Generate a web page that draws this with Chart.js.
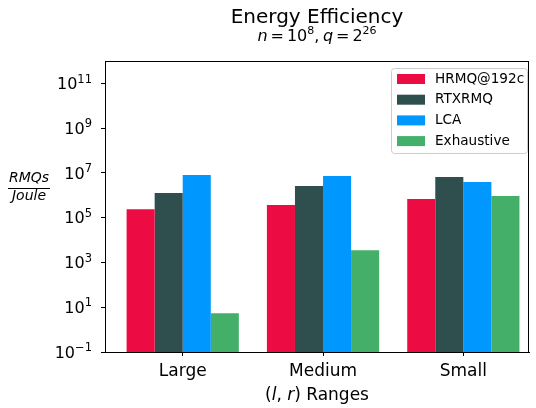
<!DOCTYPE html>
<html>
<head>
<meta charset="utf-8">
<script src="https://cdn.jsdelivr.net/npm/chart.js@4.4.1/dist/chart.umd.min.js"></script>
<style>
  html, body { margin: 0; padding: 0; background: #fff; }
  #wrap { width: 536px; height: 408px; }
</style>
</head>
<body>
<div id="wrap"><canvas id="chart" width="536" height="408"></canvas></div>
<script>
// values (RMQs per Joule, log axis)
const categories = ['Large', 'Medium', 'Small'];
const seriesNames = ['HRMQ@192c', 'RTXRMQ', 'LCA', 'Exhaustive'];
const hrmq = [2.4e5, 3.7e5, 6.8e5];
const rtxrmq = [1.26e6, 2.6e6, 6.6e6];
const lca = [8.1e6, 7.3e6, 3.9e6];
const exhaustive = [5.4, 3.5e3, 9.3e5];
const yTickExponents = [-1, 1, 3, 5, 7, 9, 11];
const seriesColors = ['#ec0c43', '#2f4f4f', '#0098ff', '#44af69'];

const FONT = '"DejaVu Sans", sans-serif';

// categories sit at x = 0, 1, 2 on a numeric axis
function toPoints(values) {
    return values.map((v, i) => ({ x: i, y: v }));
}

// draw a run of [text, font, dy, gapAfter] pieces starting at x
function drawRuns(ctx, runs, x, y) {
    runs.forEach(r => {
        ctx.font = r[1];
        ctx.fillText(r[0], x, y + (r[2] || 0));
        x += ctx.measureText(r[0]).width + (r[3] || 0);
    });
}
function runsWidth(ctx, runs) {
    let w = 0;
    runs.forEach(r => { ctx.font = r[1]; w += ctx.measureText(r[0]).width + (r[3] || 0); });
    return w;
}

// titles, axis labels, power-of-ten tick labels, frame and legend
const decorPlugin = {
    id: 'decor',
    afterDraw(chart) {
        const ctx = chart.ctx;
        const a = chart.chartArea;
        const cx = (a.left + a.right) / 2;
        ctx.save();
        ctx.fillStyle = '#000';
        ctx.textBaseline = 'alphabetic';

        // frame
        ctx.strokeStyle = '#000';
        ctx.lineWidth = 1;
        ctx.strokeRect(a.left + 0.5, a.top + 0.5, a.right - a.left - 1, a.bottom - a.top);

        // y tick labels 10^e
        const yScale = chart.scales.y;
        ctx.textAlign = 'left';
        yScale.ticks.forEach(t => {
            const e = String(Math.round(Math.log10(t.value))).replace('-', '\u2212');
            const py = yScale.getPixelForValue(t.value);
            const runs = [['10', '16px ' + FONT, 5.7], [e, '11.5px ' + FONT, -0.8]];
            drawRuns(ctx, runs, 92 - runsWidth(ctx, runs), py);
        });

        // title
        ctx.textAlign = 'center';
        ctx.font = '20px ' + FONT;
        ctx.fillText('Energy Efficiency', cx, 23);

        // subtitle
        ctx.textAlign = 'left';
        const f = '16px ' + FONT, fi = 'italic 16px ' + FONT, fs = '11px ' + FONT;
        const sub = [['n', fi, 0, 3], ['=', f, 0, 3], ['10', f], ['8', fs, -7], [',', f, 0, 3.5],
                     ['q', fi, 0, 3], ['=', f, 0, 3], ['2', f], ['26', fs, -7]];
        drawRuns(ctx, sub, cx - runsWidth(ctx, sub) / 2, 40.5);

        // x axis title
        const fx = '17px ' + FONT, fxi = 'italic 17px ' + FONT;
        const xt = [['(', fx], ['l', fxi], [', ', fx], ['r', fxi], [') Ranges', fx]];
        drawRuns(ctx, xt, cx - runsWidth(ctx, xt) / 2, 400);

        // y axis title as a fraction
        ctx.textAlign = 'center';
        ctx.font = 'italic 14px ' + FONT;
        ctx.fillText('RMQs', 29, 182);
        ctx.fillText('Joule', 29, 200);
        ctx.beginPath();
        ctx.moveTo(8, 188.5);
        ctx.lineTo(50, 188.5);
        ctx.lineWidth = 1.2;
        ctx.stroke();

        // legend
        const lx = 391, ly = 68, lw = 136, lh = 85;
        ctx.beginPath();
        ctx.roundRect(lx + 0.5, ly + 0.5, lw, lh, 3);
        ctx.fillStyle = 'rgba(255,255,255,0.8)';
        ctx.fill();
        ctx.strokeStyle = '#cccccc';
        ctx.lineWidth = 1;
        ctx.stroke();
        ctx.textAlign = 'left';
        ctx.textBaseline = 'middle';
        ctx.font = '13.6px ' + FONT;
        chart.data.datasets.forEach((ds, i) => {
            const ry = 79 + i * 20.7;
            ctx.fillStyle = ds.backgroundColor;
            ctx.fillRect(397, ry - 5, 28, 10);
            ctx.fillStyle = '#000';
            ctx.fillText(ds.label, 435, ry);
        });
        ctx.restore();
    }
};

new Chart(document.getElementById('chart'), {
    type: 'bar',
    data: {
        datasets: [
            { label: seriesNames[0], data: toPoints(hrmq), backgroundColor: seriesColors[0] },
            { label: seriesNames[1], data: toPoints(rtxrmq), backgroundColor: seriesColors[1] },
            { label: seriesNames[2], data: toPoints(lca), backgroundColor: seriesColors[2] },
            { label: seriesNames[3], data: toPoints(exhaustive), backgroundColor: seriesColors[3] }
        ]
    },
    options: {
        responsive: false,
        animation: false,
        layout: { padding: { top: 61, left: 0, right: 7, bottom: 0 } },
        datasets: { bar: { categoryPercentage: 0.8, barPercentage: 1.0, borderWidth: 0 } },
        plugins: {
            legend: { display: false },
            title: { display: false },
            tooltip: { enabled: false }
        },
        scales: {
            x: {
                type: 'linear',
                offset: false,
                min: -0.554,
                max: 2.468,
                afterBuildTicks: scale => {
                    scale.ticks = categories.map((c, i) => ({ value: i }));
                },
                grid: { display: true, offset: false, drawOnChartArea: false, drawTicks: true, tickLength: 4, tickColor: '#000', tickWidth: 1 },
                border: { display: true, color: '#000', width: 1 },
                ticks: {
                    color: '#000',
                    font: { family: FONT, size: 17 },
                    padding: 5,
                    maxRotation: 0,
                    autoSkip: false,
                    callback: v => categories[v]
                },
                afterFit: scale => { scale.height = 56; }
            },
            y: {
                type: 'logarithmic',
                min: 0.1,
                max: 1e12,
                afterBuildTicks: scale => {
                    scale.ticks = yTickExponents.map(e => ({ value: Math.pow(10, e) }));
                },
                grid: { display: true, drawOnChartArea: false, drawTicks: true, tickLength: 4, tickColor: '#000', tickWidth: 1 },
                border: { display: true, color: '#000', width: 1 },
                ticks: { display: false },
                afterFit: scale => { scale.width = 105; }
            }
        }
    },
    plugins: [decorPlugin]
});
</script>
</body>
</html>
